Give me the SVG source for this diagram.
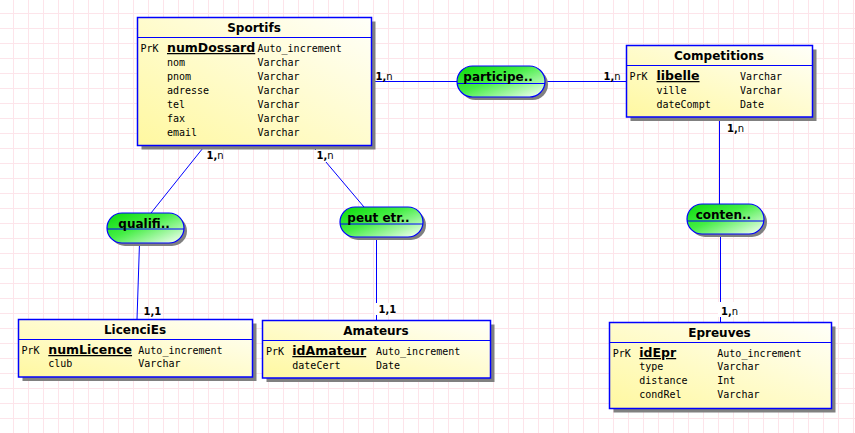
<svg xmlns="http://www.w3.org/2000/svg" width="855" height="433" viewBox="0 0 855 433">
<style>
.box{fill:url(#yel);stroke:#0000ff;stroke-width:1.5}
.shd{fill:#808080}
.div{stroke:#0000ff;stroke-width:1.2}
.pill{fill:url(#grn);stroke:#0000ff;stroke-width:1.2}
.ttl{font-family:"DejaVu Sans",sans-serif;font-weight:bold;font-size:12px;text-anchor:middle;fill:#000}
.key{font-family:"DejaVu Sans",sans-serif;font-weight:bold;font-size:12.5px;text-decoration:underline;fill:#000}
.fld{font-family:"DejaVu Sans Mono","Liberation Mono",monospace;font-size:10px;fill:#000}
.asc{font-family:"DejaVu Sans",sans-serif;font-weight:bold;font-size:12px;fill:#000}
.lbl{font-family:"DejaVu Sans",sans-serif;font-weight:bold;font-size:10px;fill:#000}
.lbl tspan.n{font-weight:normal}
.con{stroke:#0000ff;stroke-width:1;fill:none}
.lbg{fill:#ffffff}
</style>
<defs>
<pattern id="grid" patternUnits="userSpaceOnUse" x="13" y="13" width="15" height="15">
<path d="M0 0.5H15M0.5 0V15" stroke="#fde4ea" stroke-width="1"/>
</pattern>
<linearGradient id="yel" x1="0" y1="1" x2="1" y2="0">
<stop offset="0" stop-color="#fff8a0"/>
<stop offset="1" stop-color="#fffffa"/>
</linearGradient>
<linearGradient id="grn" x1="0" y1="0.1" x2="1" y2="1">
<stop offset="0" stop-color="#10dd10"/>
<stop offset="0.4" stop-color="#44ee44"/>
<stop offset="0.75" stop-color="#b0f8b0"/>
<stop offset="1" stop-color="#ffffff"/>
</linearGradient>
</defs>
<rect width="855" height="433" fill="#ffffff"/>
<rect width="855" height="433" fill="url(#grid)"/>

<g id="connectors">
<line class="con" x1="371" y1="81.5" x2="626.5" y2="81.5"/>
<line class="con" x1="205" y1="145.5" x2="151" y2="213"/>
<line class="con" x1="139.5" y1="243" x2="137" y2="319.5"/>
<line class="con" x1="312" y1="145.5" x2="364" y2="207"/>
<line class="con" x1="376.5" y1="237" x2="376.5" y2="320.5"/>
<line class="con" x1="719.5" y1="117" x2="719.5" y2="204"/>
<line class="con" x1="720.5" y1="234" x2="720.5" y2="322.5"/>
<text class="lbl" x="375.5" y="79.5">1,<tspan class="n">n</tspan></text>
<text class="lbl" x="603.5" y="79.5">1,<tspan class="n">n</tspan></text>
<text class="lbl" x="206.5" y="159">1,<tspan class="n">n</tspan></text>
<rect class="lbg" x="314" y="150" width="21" height="12"/>
<text class="lbl" x="316.5" y="159">1,<tspan class="n">n</tspan></text>
<text class="lbl" x="143.5" y="314.5">1,1</text>
<rect class="lbg" x="375" y="303" width="19" height="12"/>
<text class="lbl" x="378.5" y="313">1,1</text>
<text class="lbl" x="727" y="131.5">1,<tspan class="n">n</tspan></text>
<rect class="lbg" x="718" y="302" width="21" height="15"/>
<text class="lbl" x="721" y="315">1,<tspan class="n">n</tspan></text>
</g>

<g id="sportifs">
<rect class="shd" x="141.5" y="21.5" width="234" height="128"/>
<rect class="box" x="137.5" y="17.5" width="234" height="128"/>
<line class="div" x1="137.5" y1="37.5" x2="371.5" y2="37.5"/>
<text class="ttl" x="254" y="32">Sportifs</text>
<text class="fld" x="140.5" y="51.5">PrK</text>
<text class="key" x="167" y="52">numDossard</text>
<text class="fld" x="257.5" y="51.5">Auto_increment</text>
<text class="fld" x="167" y="65.5">nom</text><text class="fld" x="257.5" y="65.5">Varchar</text>
<text class="fld" x="167" y="79.5">pnom</text><text class="fld" x="257.5" y="79.5">Varchar</text>
<text class="fld" x="167" y="93.5">adresse</text><text class="fld" x="257.5" y="93.5">Varchar</text>
<text class="fld" x="167" y="107.5">tel</text><text class="fld" x="257.5" y="107.5">Varchar</text>
<text class="fld" x="167" y="121.5">fax</text><text class="fld" x="257.5" y="121.5">Varchar</text>
<text class="fld" x="167" y="135.5">email</text><text class="fld" x="257.5" y="135.5">Varchar</text>
</g>

<g id="competitions">
<rect class="shd" x="630.5" y="49.5" width="186" height="71.5"/>
<rect class="box" x="626.5" y="45.5" width="186" height="71.5"/>
<line class="div" x1="626.5" y1="65.5" x2="812.5" y2="65.5"/>
<text class="ttl" x="719" y="59.5">Competitions</text>
<text class="fld" x="629.5" y="79.5">PrK</text>
<text class="key" x="656.5" y="80">libelle</text>
<text class="fld" x="740" y="79.5">Varchar</text>
<text class="fld" x="656.5" y="93.5">ville</text><text class="fld" x="740" y="93.5">Varchar</text>
<text class="fld" x="656.5" y="107.5">dateCompt</text><text class="fld" x="740" y="107.5">Date</text>
</g>

<g id="licencies">
<rect class="shd" x="22.5" y="323.5" width="234" height="57.5"/>
<rect class="box" x="18.5" y="319.5" width="234" height="57.5"/>
<line class="div" x1="18.5" y1="339.5" x2="252.5" y2="339.5"/>
<text class="ttl" x="135" y="334">LicenciEs</text>
<text class="fld" x="21.5" y="353.5">PrK</text>
<text class="key" x="48.3" y="354">numLicence</text>
<text class="fld" x="138.3" y="353.5">Auto_increment</text>
<text class="fld" x="48.3" y="367">club</text><text class="fld" x="138.3" y="367">Varchar</text>
</g>

<g id="amateurs">
<rect class="shd" x="266.5" y="324.5" width="228" height="57.5"/>
<rect class="box" x="262.5" y="320.5" width="228" height="57.5"/>
<line class="div" x1="262.5" y1="340.5" x2="490.5" y2="340.5"/>
<text class="ttl" x="376" y="335">Amateurs</text>
<text class="fld" x="266" y="354.5">PrK</text>
<text class="key" x="292.3" y="355">idAmateur</text>
<text class="fld" x="376" y="354.5">Auto_increment</text>
<text class="fld" x="292.3" y="368.5">dateCert</text><text class="fld" x="376" y="368.5">Date</text>
</g>

<g id="epreuves">
<rect class="shd" x="613.5" y="326.5" width="222" height="86"/>
<rect class="box" x="609.5" y="322.5" width="222" height="86"/>
<line class="div" x1="609.5" y1="342.5" x2="831.5" y2="342.5"/>
<text class="ttl" x="719.5" y="336.7">Epreuves</text>
<text class="fld" x="612.7" y="356.5">PrK</text>
<text class="key" x="639.3" y="357">idEpr</text>
<text class="fld" x="717.3" y="356.5">Auto_increment</text>
<text class="fld" x="639.3" y="370">type</text><text class="fld" x="717.3" y="370">Varchar</text>
<text class="fld" x="639.3" y="384.3">distance</text><text class="fld" x="717.3" y="384.3">Int</text>
<text class="fld" x="639.3" y="398.3">condRel</text><text class="fld" x="717.3" y="398.3">Varchar</text>
</g>

<g id="participe">
<rect class="shd" x="460" y="69" width="88" height="31" rx="15.5"/>
<rect class="pill" x="457" y="66" width="88" height="31" rx="15.5"/>
<line class="div" x1="457" y1="83.5" x2="545" y2="83.5"/>
<text class="asc" x="463.3" y="81">participe..</text>
</g>

<g id="qualifi">
<rect class="shd" x="110" y="216" width="77" height="30" rx="15"/>
<rect class="pill" x="107" y="213" width="77" height="30" rx="15"/>
<line class="div" x1="107" y1="229" x2="184" y2="229"/>
<text class="asc" x="118.3" y="228">qualifi..</text>
</g>

<g id="peutetr">
<rect class="shd" x="343" y="210" width="83" height="30" rx="15"/>
<rect class="pill" x="340" y="207" width="83" height="30" rx="15"/>
<line class="div" x1="340" y1="224" x2="423" y2="224"/>
<text class="asc" x="347.3" y="222.3">peut etr..</text>
</g>

<g id="conten">
<rect class="shd" x="690" y="207" width="77" height="30" rx="15"/>
<rect class="pill" x="687" y="204" width="77" height="30" rx="15"/>
<line class="div" x1="687" y1="221" x2="764" y2="221"/>
<text class="asc" x="695.7" y="219">conten..</text>
</g>
</svg>
